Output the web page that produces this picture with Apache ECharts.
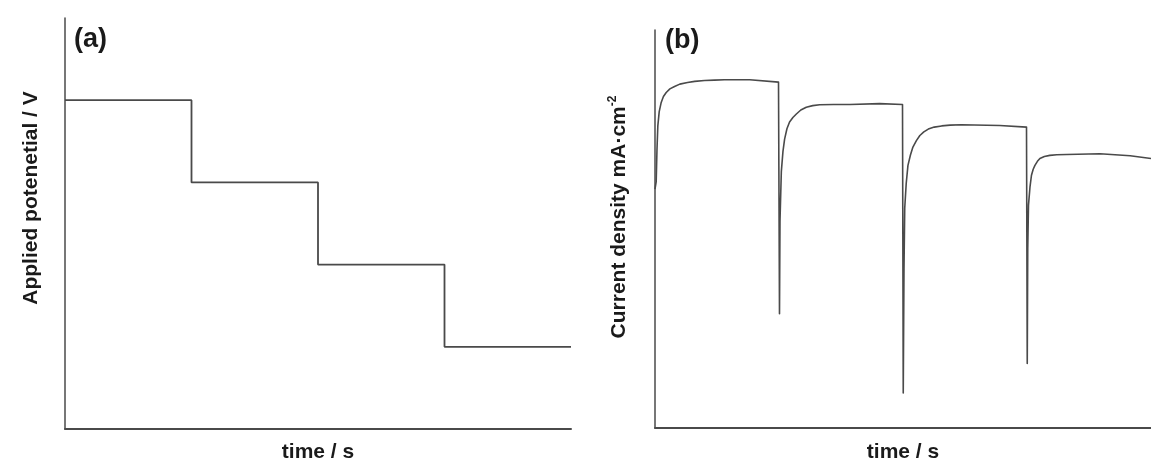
<!DOCTYPE html>
<html>
<head>
<meta charset="utf-8">
<script src="https://cdn.jsdelivr.net/npm/echarts@6/dist/echarts.min.js"></script>
<style>
  html, body { margin: 0; padding: 0; background: #fff; }
  #chart { width: 1151px; height: 468px; }
</style>
</head>
<body>
<div id="chart"></div>
<script>
// Potential program (a): one level per step, steps change at these times
const stepTimes = [0, 25, 50, 75, 100];
const potentialLevels = [80, 60, 40, 20];

// Current response (b): sampled transient (time, current density)
const currentTime = [
  0, 0.24, 0.4, 0.57, 0.85, 1.25, 1.7, 2.26, 3.0, 3.94, 5.0, 6.56, 8.0, 9.99, 12.0, 14.0, 19.1, 24.9,
  25.1, 25.2, 25.47, 25.8, 26.13, 26.6, 27.13, 27.8, 28.5, 29.4, 30.5, 31.8, 33.2, 36.0, 39.3, 45.3, 49.9,
  50.05, 50.2, 50.35, 50.65, 51.0, 51.5, 52.0, 52.7, 53.4, 54.2, 55.1, 56.3, 57.8, 59.5, 61.8, 69.5, 74.9,
  75.05, 75.15, 75.3, 75.6, 75.9, 76.25, 76.6, 77.1, 77.6, 78.5, 79.6, 81.0, 83.0, 89.7, 95.8, 100
];
const currentDensity = [
  60, 61.9, 70.0, 75.9, 79.5, 81.8, 83.3, 84.3, 85.2, 85.8, 86.4, 86.8, 87.1, 87.3, 87.4, 87.5, 87.5, 86.9,
  28.7, 52, 64.4, 69.5, 72.6, 75.2, 76.9, 78.0, 78.9, 79.9, 80.6, 81.0, 81.2, 81.3, 81.3, 81.5, 81.3,
  8.8, 40, 55.2, 61.5, 66.0, 68.6, 70.6, 72.2, 73.5, 74.4, 75.1, 75.6, 75.9, 76.1, 76.2, 76.0, 75.6,
  16.2, 45, 56.0, 60.5, 63.5, 65.0, 66.0, 67.0, 67.7, 68.2, 68.5, 68.65, 68.7, 68.9, 68.4, 67.7
];

// Corner points of the staircase
const potentialPoints = [];
potentialLevels.forEach((v, i) => {
  potentialPoints.push([stepTimes[i], v]);
  potentialPoints.push([stepTimes[i + 1], v]);
});
const currentPoints = currentTime.map((t, i) => [t, currentDensity[i]]);

const FONT = '"Liberation Sans", Arial, Helvetica, sans-serif';
const LINE = '#4a4a4a';
const AXIS = '#4a4a4a';

function valueAxis(extra) {
  return Object.assign({
    type: 'value',
    min: 0,
    max: 100,
    axisLine: { show: true, onZero: false, lineStyle: { color: AXIS, width: 1.5 } },
    axisTick: { show: false },
    axisLabel: { show: false },
    splitLine: { show: false }
  }, extra || {});
}

const chart = echarts.init(document.getElementById('chart'), null, { renderer: 'canvas' });
chart.setOption({
  animation: false,
  backgroundColor: '#ffffff',
  grid: [
    { left: 65, top: 18, width: 506, height: 413 },
    { left: 655, top: 30, right: 0, height: 402 }
  ],
  xAxis: [
    valueAxis({
      gridIndex: 0,
      name: 'time / s',
      nameLocation: 'middle',
      nameGap: 13,
      nameTextStyle: { fontFamily: FONT, fontWeight: 'bold', fontSize: 21, color: '#1a1a1a' },
      axisLine: { show: true, onZero: false, lineStyle: { color: AXIS, width: 2 } }
    }),
    valueAxis({
      gridIndex: 1,
      name: 'time / s',
      nameLocation: 'middle',
      nameGap: 14,
      nameTextStyle: { fontFamily: FONT, fontWeight: 'bold', fontSize: 21, color: '#1a1a1a' },
      axisLine: { show: true, onZero: false, lineStyle: { color: AXIS, width: 2 } }
    })
  ],
  yAxis: [
    valueAxis({ gridIndex: 0 }),
    valueAxis({ gridIndex: 1 })
  ],
  series: [
    {
      type: 'line',
      xAxisIndex: 0,
      yAxisIndex: 0,
      data: potentialPoints,
      showSymbol: false,
      lineStyle: { color: LINE, width: 1.8 }
    },
    {
      type: 'line',
      xAxisIndex: 1,
      yAxisIndex: 1,
      data: currentPoints,
      showSymbol: false,
      lineStyle: { color: LINE, width: 1.6, join: 'round' }
    }
  ],
  graphic: [
    {
      type: 'text', left: 74, top: 26,
      style: { text: '(a)', font: 'bold 27px ' + FONT, fill: '#1a1a1a' }
    },
    {
      type: 'text', left: 665, top: 27,
      style: { text: '(b)', font: 'bold 27px ' + FONT, fill: '#1a1a1a' }
    },
    {
      type: 'text', x: 31, y: 198, rotation: Math.PI / 2,
      style: {
        text: 'Applied potenetial / V',
        font: 'bold 21px ' + FONT, fill: '#1a1a1a',
        align: 'center', verticalAlign: 'middle'
      }
    },
    {
      type: 'text', x: 619, y: 217, rotation: Math.PI / 2,
      style: {
        text: '{m|Current density mA·cm}{s|-2}',
        align: 'center', verticalAlign: 'middle',
        rich: {
          m: { fontFamily: FONT, fontWeight: 'bold', fontSize: 21, fill: '#1a1a1a', color: '#1a1a1a' },
          s: { fontFamily: FONT, fontWeight: 'bold', fontSize: 12, fill: '#1a1a1a', color: '#1a1a1a', verticalAlign: 'top', padding: [0, 0, 12, 0] }
        }
      }
    }
  ]
});
</script>
</body>
</html>
